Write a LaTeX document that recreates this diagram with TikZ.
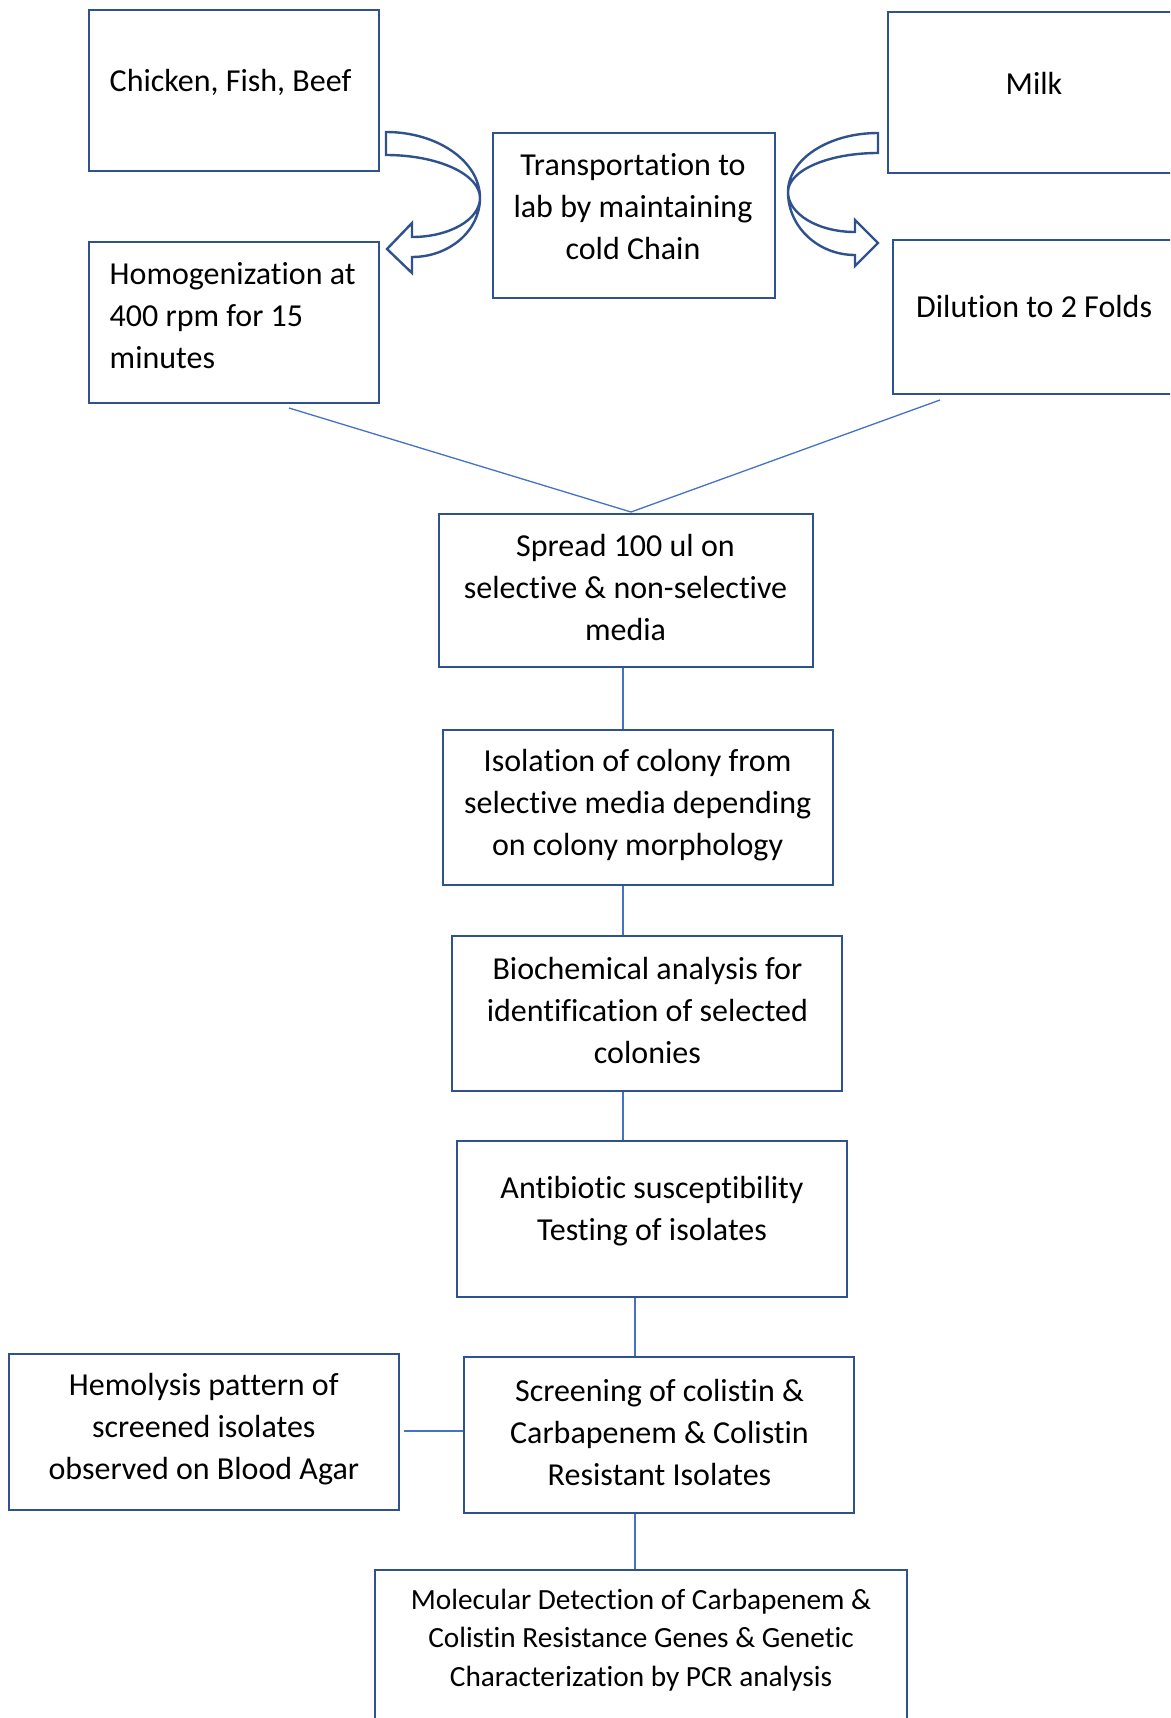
\documentclass[tikz,border=0pt]{standalone}
\usepackage{fontspec}
\setmainfont[Ligatures={NoCommon}]{Carlito}
\usetikzlibrary{calc}
\definecolor{boxblue}{HTML}{2F528F}
\definecolor{linkblue}{HTML}{4472C4}
\begin{document}
\begin{tikzpicture}[x=1pt,y=-1pt,
  box/.style={draw=boxblue, line width=2.8pt, rectangle, inner sep=0pt},
  lbl/.style={font=\fontsize{32}{42}\selectfont, align=center, inner sep=0pt, text=black},
  lbls/.style={font=\fontsize{29.3}{38.5}\selectfont, align=center, inner sep=0pt, text=black},
  link/.style={draw=linkblue, line width=1.3pt},
  curvearrow/.style={draw=boxblue, line width=2.4pt, fill=white, line join=miter}]
\clip (0,0) rectangle (1170,1718);
\fill[white] (0,0) rectangle (1170,1718);

% boxes
\node[box, minimum width=290pt, minimum height=161pt] (chk) at (234,90.5) {};
\node[box, minimum width=297pt, minimum height=161pt] (milk) at (1036.5,92.5) {};
\node[box, minimum width=282pt, minimum height=165pt] (trans) at (634,215.5) {};
\node[box, minimum width=290pt, minimum height=161pt] (homo) at (234,322.5) {};
\node[box, minimum width=292pt, minimum height=154pt] (dil) at (1039,317) {};
\node[box, minimum width=374pt, minimum height=153pt] (spread) at (626,590.5) {};
\node[box, minimum width=390pt, minimum height=155pt] (iso) at (638,807.5) {};
\node[box, minimum width=390pt, minimum height=155pt] (bio) at (647,1013.5) {};
\node[box, minimum width=390pt, minimum height=156pt] (anti) at (652,1219) {};
\node[box, minimum width=390pt, minimum height=156pt] (scr) at (659,1435) {};
\node[box, minimum width=390pt, minimum height=156pt] (hem) at (204,1432) {};
\node[box, minimum width=532pt, minimum height=170pt] (mol) at (641,1655) {};

% texts
\node[lbl, anchor=west] (tchk) at (109.5,82) {Chicken, Fish, Beef};
\node[lbl] (tmilk) at (1034,83) {Milk};
\node[lbl] (ttrans) at (633,207) {Transportation to\\lab by maintaining\\cold Chain};
\node[lbl, anchor=west, align=left] (thomo) at (109.5,316) {Homogenization at\\400 rpm for 15\\minutes};
\node[lbl, anchor=west] (tdil) at (916,307) {Dilution to 2 Folds};
\node[lbl] (tspread) at (625.5,588) {Spread 100 ul on\\selective \& non-selective\\media};
\node[lbl] (tiso) at (637.6,805) {Isolation of colony from\\selective media depending\\on colony morphology};
\node[lbl] (tbio) at (647.4,1010) {Biochemical analysis for\\identification of selected\\colonies};
\node[lbl] (tanti) at (652,1211.5) {Antibiotic susceptibility\\Testing of isolates};
\node[lbl] (tscr) at (659.5,1432) {Screening of colistin \&\\Carbapenem \& Colistin\\Resistant Isolates};
\node[lbl] (them) at (203.8,1429) {Hemolysis pattern of\\screened isolates\\observed on Blood Agar};
\node[lbls] (tmol) at (641,1640) {Molecular Detection of Carbapenem \&\\Colistin Resistance Genes \& Genetic\\Characterization by PCR analysis};

% curved block arrows
\draw[curvearrow] (386,132) .. controls (437.9,132) and (480,161.6) .. (480,198)
  .. controls (480,230.6) and (449.5,257) .. (412,257)
  -- (412,273) -- (387,249) -- (412,223) -- (412,237)
  .. controls (449.5,237) and (480,219.5) .. (480,198)
  .. controls (480,174.3) and (437.9,155) .. (386,155) -- cycle;
\draw[curvearrow] (878,133) .. controls (828.3,133) and (788,159.4) .. (788,192)
  .. controls (788,226.8) and (818,255) .. (855,255)
  -- (855,266) -- (878,243) -- (855,220) -- (855,232)
  .. controls (818,232) and (788,214) .. (788,192)
  .. controls (788,170.5) and (828.3,153) .. (878,153) -- cycle;

% connectors
\coordinate (hj) at (289,408);
\coordinate (dj) at (940,400);
\coordinate (mj) at (631,512);
\coordinate (c1) at (623,0);
\coordinate (c2) at (635,0);
\draw[link] (hj) -- (mj) -- (dj);
\draw[link] (spread.south -| c1) -- (iso.north -| c1);
\draw[link] (iso.south -| c1) -- (bio.north -| c1);
\draw[link] (bio.south -| c1) -- (anti.north -| c1);
\draw[link] (anti.south -| c2) -- (scr.north -| c2);
\draw[link] (scr.south -| c2) -- (mol.north -| c2);
\draw[link] ($(hem.east)+(4,-1)$) -- (scr.west |- 0,1431);
\end{tikzpicture}
\end{document}
